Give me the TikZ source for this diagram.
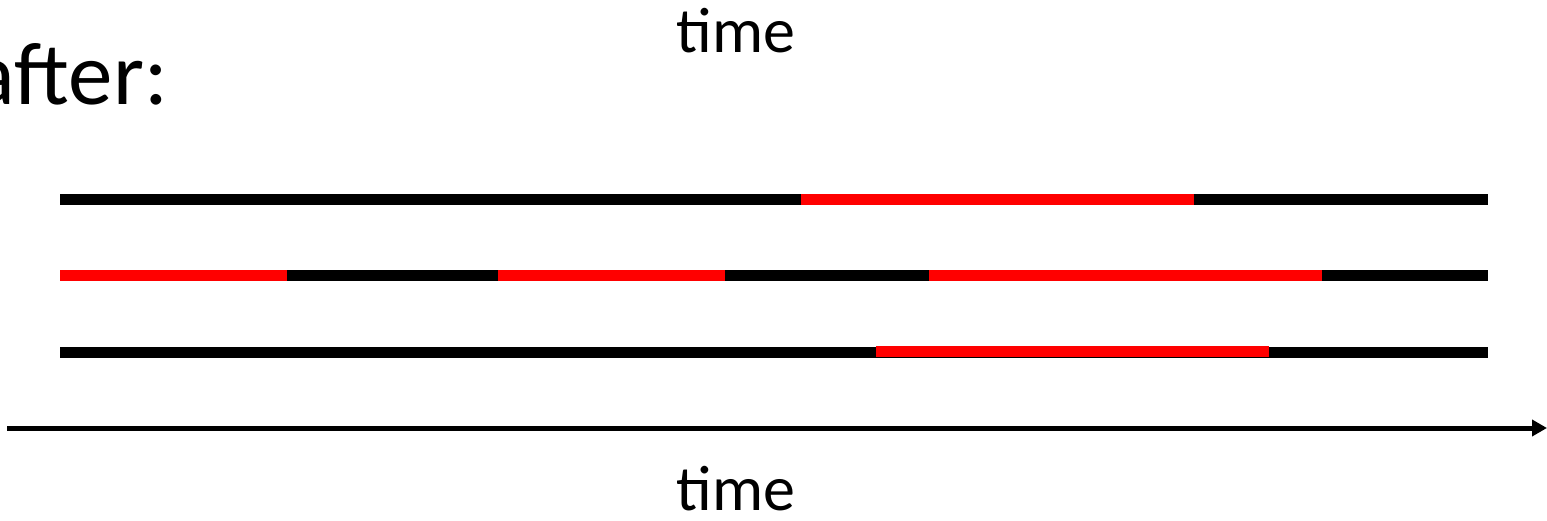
\documentclass[tikz,border=0pt]{standalone}
\usepackage{fontspec}
\setmainfont{Carlito}
\usetikzlibrary{arrows.meta}
\begin{document}
\begin{tikzpicture}[x=1pt,y=-1pt,
  bar/.style={line width=11pt, black},
  hl/.style={line width=11pt, red},
  axisline/.style={line width=5pt, -{Triangle[length=15pt,width=16pt]}},
  lbl/.style={inner sep=0pt, font=\fontsize{64}{76}\selectfont},
  biglbl/.style={inner sep=0pt, font=\fontsize{89}{100}\selectfont}]
\useasboundingbox (0,0) rectangle (1547,521);
% labels
\node[lbl, anchor=base] (ttop) at (736,53) {time};
\node[lbl, anchor=base] (tbot) at (736,510) {time};
\node[biglbl, anchor=base east] (after) at (168,105) {after:};
% rows
\draw[bar] (60,200) -- (1488,200);
\draw[hl] (801,200) -- (1194,200);
\draw[bar] (60,275.5) -- (1488,275.5);
\draw[hl] (60,275.5) -- (287,275.5);
\draw[hl] (498,275.5) -- (725,275.5);
\draw[hl] (929,275.5) -- (1322,275.5);
\draw[bar] (60,352) -- (1488,352);
\draw[hl] (876,351.5) -- (1269,351.5);
% axis
\coordinate (a0) at (7,428);
\coordinate (a1) at (1547,428);
\draw[axisline] (a0) -- (a1);
\end{tikzpicture}
\end{document}
